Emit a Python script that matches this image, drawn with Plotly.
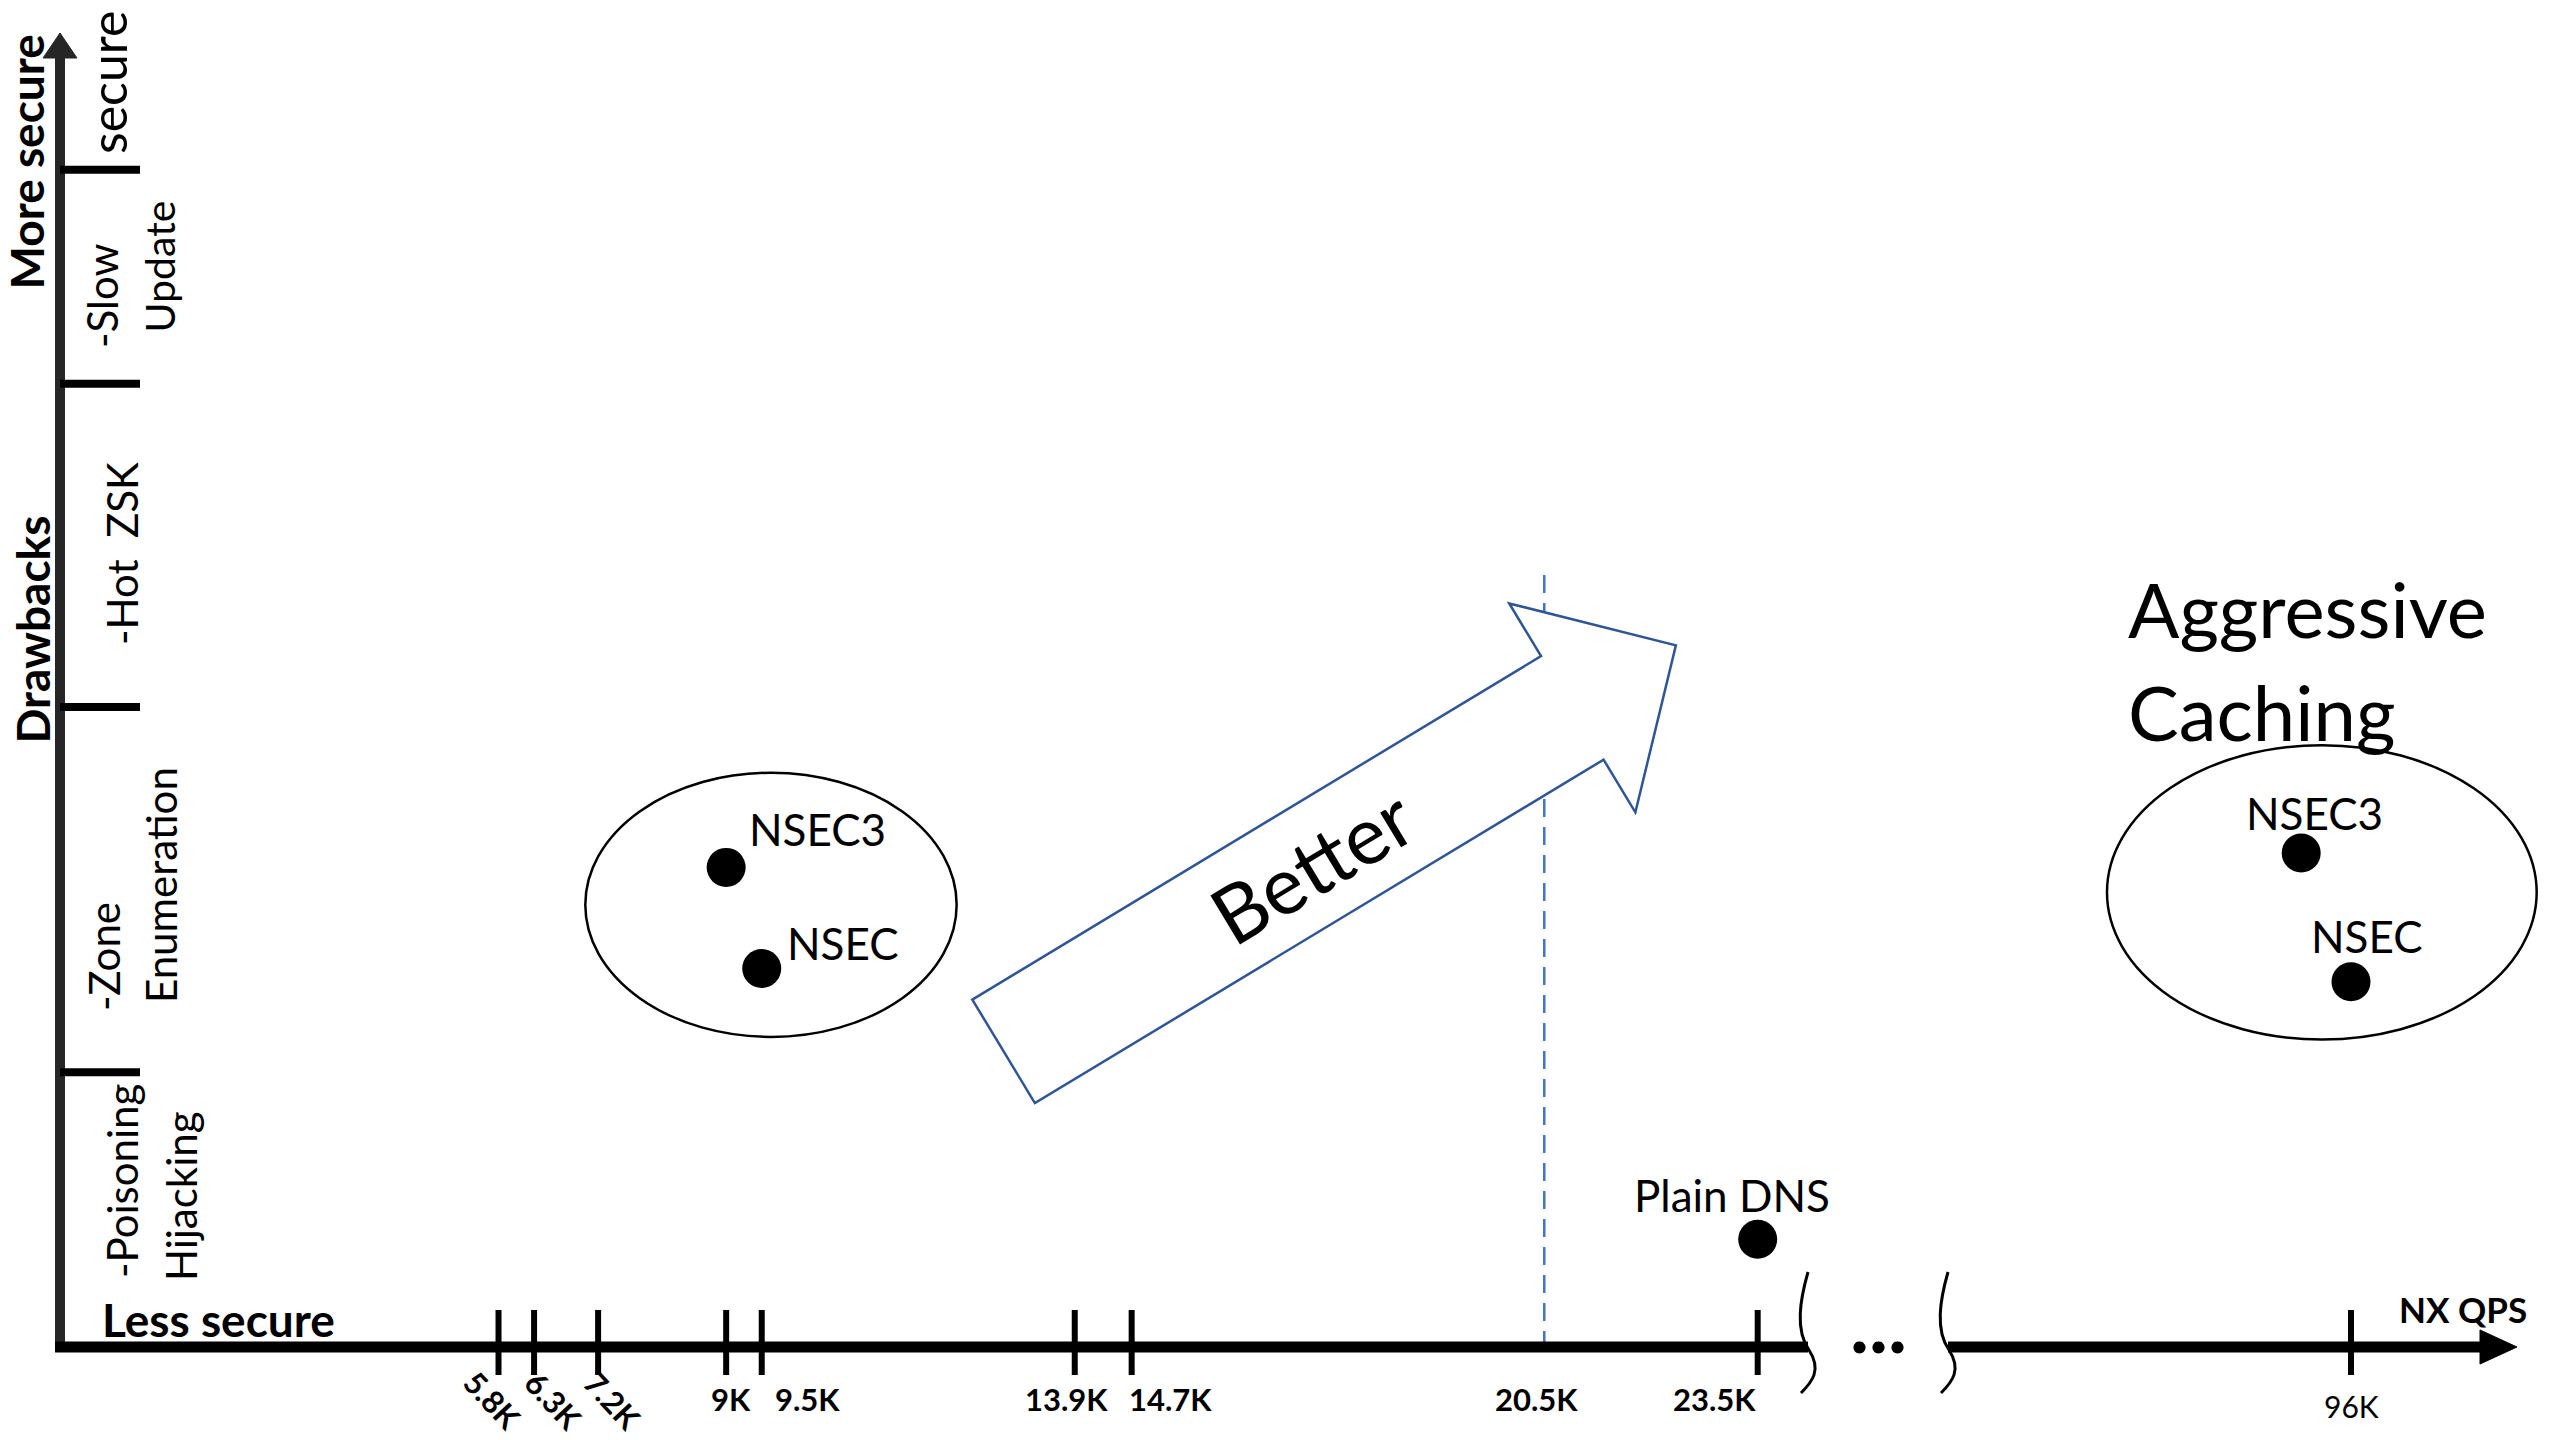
import math
import plotly.graph_objects as go

# ---------------- data ----------------
near_tick_k = [5.8, 6.3, 7.2, 9.0, 9.5, 13.9, 14.7, 23.5]
near_tick_labels = ["5.8K", "6.3K", "7.2K", "9K", "9.5K", "13.9K", "14.7K", "23.5K"]
far_tick_k = [96.0]
far_tick_labels = ["96K"]
ref_line_k = [20.5]
ref_line_labels = ["20.5K"]

point_names = ["NSEC3", "NSEC", "Plain DNS", "NSEC3", "NSEC"]
point_qps_k = [9.0, 9.5, 23.5, 95.3, 96.0]
point_score = [36.5, 28.8, 8.2, 37.6, 27.8]

drawback_bounds = [20.9, 48.7, 73.3, 89.6]
drawback_lines = ["-Poisoning", "Hijacking", "-Zone", "Enumeration",
                  "-Hot\u00a0\u00a0ZSK", "-Slow", "Update", "secure"]

group_qps_k = [(7.02, 12.24), (92.57, 98.61)]
group_score = [(23.6, 43.7), (23.4, 45.8)]
group_title = ["Aggressive", "Caching"]

better_from = (12.9, 22.5)
better_to = (22.35, 53.4)

# ---------------- geometry / style ----------------
W, H = 2560, 1440
K_PX = 71.14
NEAR_ZERO_PX = 85.9
BREAK_L_PX, BREAK_R_PX = 1808.0, 1948.0
FAR_ANCHOR_K, FAR_ANCHOR_PX = 96.0, 2351.0
FAR_START_K = FAR_ANCHOR_K - (FAR_ANCHOR_PX - BREAK_R_PX) / K_PX
Y0_PX, UNIT_PX = 1347.0, 13.14
YAX_PX = 60.0
FONT = "Lato, 'Open Sans', sans-serif"
ASC = 0.38
BLUE_DARK = "#2F5597"
BLUE = "#4472C4"


def is_far(k):
    return k > 50


def px_x(k):
    return BREAK_R_PX + (k - FAR_START_K) * K_PX if is_far(k) else NEAR_ZERO_PX + k * K_PX


def px_y(s):
    return Y0_PX - s * UNIT_PX


def xp(px):
    return px / W


def yp(py):
    return 1 - py / H


shapes = []
annotations = []


def line_px(x0, y0, x1, y1, color="black", width=2, dash=None):
    ln = dict(color=color, width=width)
    if dash:
        ln["dash"] = dash
    shapes.append(dict(type="line", xref="paper", yref="paper",
                       x0=xp(x0), y0=yp(y0), x1=xp(x1), y1=yp(y1), line=ln))


def poly_px(pts, fill, color, width=1):
    d = "M " + " L ".join(f"{xp(x):.6f},{yp(y):.6f}" for x, y in pts) + " Z"
    shapes.append(dict(type="path", xref="paper", yref="paper", path=d,
                       fillcolor=fill, line=dict(color=color, width=width)))


def curve_px(start, segs, color="black", width=3):
    d = f"M {xp(start[0]):.6f},{yp(start[1]):.6f}"
    for c1, c2, e in segs:
        d += " C " + ", ".join(f"{xp(a):.6f},{yp(b):.6f}" for a, b in (c1, c2, e))
    shapes.append(dict(type="path", xref="paper", yref="paper", path=d,
                       line=dict(color=color, width=width)))


def ann(text, x, y, size, xanchor="center", yanchor="middle", angle=0,
        xref="paper", yref="paper", xshift=0, yshift=0, color="black", align="center"):
    annotations.append(dict(text=text, x=x, y=y, xref=xref, yref=yref, showarrow=False,
                            xanchor=xanchor, yanchor=yanchor, textangle=angle,
                            xshift=xshift, yshift=yshift, align=align,
                            font=dict(family=FONT, size=size, color=color)))


# ---- dashed reference line (below the arrow) ----
for k in ref_line_k:
    line_px(px_x(k), 575, px_x(k), Y0_PX, BLUE, 2.5, dash="18px,10px")

# ---- "Better" block arrow ----
tx, ty = px_x(better_from[0]), px_y(better_from[1])
hx, hy = px_x(better_to[0]), px_y(better_to[1])
L = math.hypot(hx - tx, hy - ty)
ux, uy = (hx - tx) / L, (hy - ty) / L
nx, ny = uy, -ux
SW, HW, HL = 121, 244, 121
bx, by = hx - HL * ux, hy - HL * uy
arrow_pts = [(tx + nx * SW / 2, ty + ny * SW / 2), (bx + nx * SW / 2, by + ny * SW / 2),
             (bx + nx * HW / 2, by + ny * HW / 2), (hx, hy),
             (bx - nx * HW / 2, by - ny * HW / 2), (bx - nx * SW / 2, by - ny * SW / 2),
             (tx - nx * SW / 2, ty - ny * SW / 2)]
poly_px(arrow_pts, "white", BLUE_DARK, 2.5)
ang = math.degrees(math.atan2(-uy, ux))
ann("Better", xp(tx + ux * 360), yp(ty + uy * 360), 80, angle=-ang)

# ---- axes ----
line_px(YAX_PX, Y0_PX + 5, YAX_PX, 56, "#262626", 10)
poly_px([(YAX_PX - 17, 58), (YAX_PX + 17, 58), (YAX_PX, 33)], "#262626", "#262626")
line_px(55, Y0_PX, BREAK_L_PX, Y0_PX, "black", 11)
line_px(BREAK_R_PX, Y0_PX, 2482, Y0_PX, "black", 11)
poly_px([(2480, Y0_PX - 17), (2480, Y0_PX + 17), (2517, Y0_PX)], "black", "black")

# axis break
for dx in (0, BREAK_R_PX - BREAK_L_PX):
    curve_px((BREAK_L_PX + dx, 1272),
             [((BREAK_L_PX - 8 + dx, 1300), (BREAK_L_PX - 13 + dx, 1330), (BREAK_L_PX + 1 + dx, 1350)),
              ((BREAK_L_PX + 14 + dx, 1370), (BREAK_L_PX + 4 + dx, 1382), (BREAK_L_PX - 7 + dx, 1393))])
ann("<b>...</b>", xp((BREAK_L_PX + BREAK_R_PX) / 2), yp(1352 - ASC * 80), 80)

# x ticks
for k in near_tick_k + far_tick_k:
    line_px(px_x(k), 1310, px_x(k), 1375, "black", 6)

# tick labels
near_anchor = ["center", "center", "center", "center", "left", "center", "left", "right"]
near_angle = [47, 47, 47, 0, 0, 0, 0, 0]
near_shift = [-6, 19, 14, 5, 11, -8, -5, 0]
for k, lab, a, r, s in zip(near_tick_k, near_tick_labels, near_anchor, near_angle, near_shift):
    yb = 1400 if r else 1411 - ASC * 31
    ann(f"<b>{lab}</b>", k, yp(yb), 31, xanchor=a, angle=r, xref="x", xshift=s)
for k, lab in zip(ref_line_k, ref_line_labels):
    ann(f"<b>{lab}</b>", k, yp(1411 - ASC * 31), 31, xref="x", xshift=-8)
for k, lab in zip(far_tick_k, far_tick_labels):
    ann(lab, k, yp(1417 - ASC * 30), 30, xref="x2")

# y band ticks
for b in drawback_bounds:
    line_px(YAX_PX, px_y(b), 140, px_y(b), "black", 8)

# y band labels (rotated) : baseline x, centre along y, size
band_style = [(138, 1181, 42), (197, 1196, 42), (120, 957, 42), (177, 885, 42),
              (138, 554, 42), (118, 296, 42), (175, 266, 41), (127, 83, 50)]
for txt, (bxl, cy, sz) in zip(drawback_lines, band_style):
    ann(txt, xp(bxl - ASC * sz), yp(cy), sz, angle=-90)

# axis titles
ann("<b>More secure</b>", xp(43 - ASC * 46), yp(162), 46, angle=-90)
ann("<b>Drawbacks</b>", xp(49 - ASC * 46), yp(630), 46, angle=-90)
ann("<b>Less secure</b>", xp(100), yp(1337 - ASC * 46), 46, xanchor="left")
ann("<b>NX QPS</b>", xp(2397), yp(1322 - ASC * 35), 35, xanchor="left")

# group ellipses
for (x0, x1), (y0, y1) in zip(group_qps_k, group_score):
    ref = "x2" if is_far(x0) else "x"
    shapes.append(dict(type="circle", xref=ref, yref="y", x0=x0, x1=x1, y0=y0, y1=y1,
                       line=dict(color="black", width=2.5), layer="below"))
for i, t in enumerate(group_title):
    ann(t, xp(2126), yp([637, 740][i] - ASC * 76), 76, xanchor="left")

# points
near_i = [i for i, k in enumerate(point_qps_k) if not is_far(k)]
far_i = [i for i, k in enumerate(point_qps_k) if is_far(k)]
fig = go.Figure()
for idx, xa in ((near_i, "x"), (far_i, "x2")):
    fig.add_trace(go.Scatter(x=[point_qps_k[i] for i in idx], y=[point_score[i] for i in idx],
                             mode="markers", marker=dict(size=39, color="black"),
                             xaxis=xa, yaxis="y", cliponaxis=False, hoverinfo="skip",
                             showlegend=False))

label_style = [("left", 21, 22), ("left", 23, 9), ("center", -26, 28), ("center", 13, 23), ("center", 16, 29)]
for name, k, s, (a, dx, dy) in zip(point_names, point_qps_k, point_score, label_style):
    ann(name, k, s, 44, xanchor=a, xref="x2" if is_far(k) else "x", yref="y",
        xshift=dx, yshift=dy + ASC * 44)

fig.update_layout(
    width=W, height=H, margin=dict(l=0, r=0, t=0, b=0),
    paper_bgcolor="white", plot_bgcolor="white", showlegend=False,
    xaxis=dict(domain=[0, BREAK_L_PX / W],
               range=[-NEAR_ZERO_PX / K_PX, (BREAK_L_PX - NEAR_ZERO_PX) / K_PX],
               visible=False, fixedrange=True),
    xaxis2=dict(domain=[BREAK_R_PX / W, 1], anchor="y",
                range=[FAR_START_K, FAR_START_K + (W - BREAK_R_PX) / K_PX],
                visible=False, fixedrange=True),
    yaxis=dict(domain=[0, 1], range=[(Y0_PX - H) / UNIT_PX, Y0_PX / UNIT_PX],
               visible=False, fixedrange=True),
    shapes=shapes, annotations=annotations,
)

fig.write_html("out.html", config={"displayModeBar": False},
               post_script="document.body.style.margin='0';document.body.style.overflow='hidden';")
